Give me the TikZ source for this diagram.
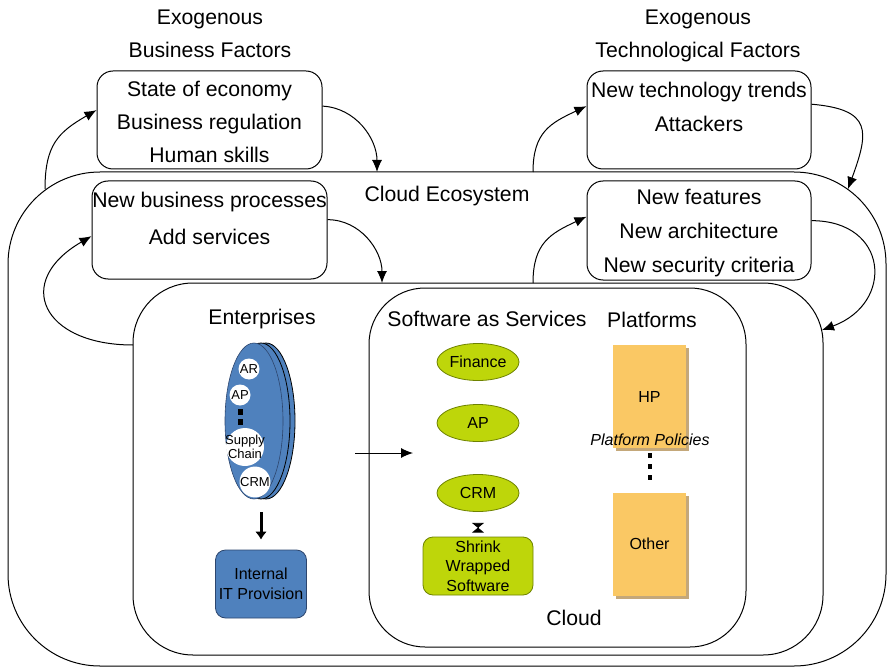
\documentclass[tikz,border=0pt]{standalone}
\usepackage{fontspec}
\setmainfont{Liberation Sans}
\usetikzlibrary{arrows.meta,shapes.geometric,shadows}

\definecolor{entblue}{RGB}{79,129,189}
\definecolor{entline}{RGB}{45,70,110}
\definecolor{saasgreen}{RGB}{190,214,10}
\definecolor{saasline}{RGB}{110,130,0}
\definecolor{platorange}{RGB}{250,200,100}
\definecolor{platshadow}{RGB}{196,168,122}

\begin{document}
\begin{tikzpicture}[
    x=0.5pt, y=-0.5pt,
    font=\fontsize{10.6}{17}\selectfont,
    zone/.style={draw, rectangle, inner sep=0pt, line width=0.5pt},
    factor/.style={draw, rectangle, rounded corners=8pt, align=center,
                   minimum width=112.5pt, minimum height=49pt, inner sep=0pt, line width=0.5pt},
    heading/.style={align=center, inner sep=0pt},
    arrow/.style={-{Latex[length=6pt,width=5pt]}, line width=0.5pt},
    bigarrow/.style={-{Latex[length=4pt,width=6pt]}, line width=1.5pt},
    layer/.style={ellipse, fill=entblue, minimum width=29pt, minimum height=78pt, inner sep=0pt},
    module/.style={circle, fill=white, inner sep=0pt, align=center,
                   font=\fontsize{6.5}{7}\selectfont},
    app/.style={ellipse, draw=saasline, fill=saasgreen, minimum width=41pt,
                minimum height=18.5pt, inner sep=0pt, font=\fontsize{8}{9.5}\selectfont},
    smallbox/.style={rectangle, rounded corners=5pt, align=center, inner sep=0pt,
                     font=\fontsize{8}{9.75}\selectfont},
    platform/.style={rectangle, fill=platorange, minimum width=36.5pt, minimum height=51.5pt,
                     inner sep=0pt, font=\fontsize{8}{9.5}\selectfont,
                     copy shadow={fill=platshadow, draw=none, shadow xshift=1.5pt, shadow yshift=-1.5pt}}
]
\useasboundingbox (0,0) rectangle (888,668);

% nested regions
\node[zone, rounded corners=46pt, minimum width=439pt, minimum height=247pt] (eco) at (447,419) {};
\node[zone, rounded corners=30pt, minimum width=345pt, minimum height=186pt] (ent) at (478,469) {};
\node[zone, rounded corners=28pt, minimum width=188.5pt, minimum height=179.5pt] (cloud) at (557.5,467.5) {};

\node[heading] (exobus)  at (210,34) {Exogenous\\[-0.5pt]Business Factors};
\node[heading] (exotech) at (698,35.5) {Exogenous\\[-0.5pt]Technological Factors};
\node[heading] (ecolbl)  at (447,196) {Cloud Ecosystem};
\node[heading] (entlbl)  at (262,319) {Enterprises};
\node[heading] (saaslbl) at (487,319) {Software as Services};
\node[heading] (platlbl) at (652,320) {Platforms};
\node[heading] (cloudlbl) at (574,618) {Cloud};

% factor boxes
\node[factor] (busfac) at (209.5,120) {\mbox{}\\[-7.4pt]State of economy\\[-0.5pt]Business regulation\\[-0.5pt]Human skills};
\node[factor, minimum width=117.5pt] (busproc) at (209.5,230) {New business processes\\[1.5pt]Add services\\[-5.3pt]\mbox{}};
\node[factor, minimum width=112pt] (techfac) at (699,120) {New technology trends\\Attackers\\[-3.8pt]\mbox{}};
\node[factor, minimum width=112pt, minimum height=49.5pt] (techproc) at (699,230.5) {\mbox{}\\[-7.3pt]New features\\New architecture\\New security criteria};

% feedback loops
\coordinate (ecobusout)  at (45,189);
\coordinate (ecobusin)   at (377,172);
\coordinate (ecotechout) at (533,172);
\coordinate (ecotechin)  at (848,189);
\coordinate (entbusout)  at (133,345);
\coordinate (entbusin)   at (382,283);
\coordinate (enttechout) at (533,283);
\coordinate (enttechin)  at (822,330);

\draw[arrow] (ecobusout) to[out=90, in=210, looseness=1.2] (busfac.175);
\draw[arrow] (busfac.7) to[out=-3, in=90] (ecobusin);
\draw[arrow] (entbusout) to[out=180, in=210, looseness=2] (busproc.183);
\draw[arrow] (busproc.5) to[out=0, in=90] (entbusin);
\draw[arrow] (ecotechout) to[out=90, in=205, looseness=1.2] (techfac.173.5);
\draw[arrow] (techfac.8) to[out=-5, in=70, looseness=1.7] (ecotechin);
\draw[arrow] (enttechout) to[out=90, in=205, looseness=1.2] (techproc.173.6);
\draw[arrow] (techproc.5) to[out=0, in=20, looseness=1.8] (enttechin);

% enterprise stack
\node[layer, draw=black] (ent3) at (266,421) {};
\node[layer, draw=black] (ent2) at (261,421) {};
\node[layer, draw=entline, line width=0.3pt] (ent1) at (254,421) {};
\node[module, minimum size=10.5pt] (ar) at (249,369) {AR};
\node[module, minimum size=10.5pt] (ap) at (240,395) {AP};
\node[module, minimum size=19pt] (sc) at (245,447) {\makebox[0pt]{Supply}\\\makebox[0pt]{Chain}};
\node[module, minimum size=15pt] (crm) at (255,482) {CRM};
\draw[line width=2.5pt, dash pattern=on 3pt off 2pt, shorten <=1.75pt, shorten >=1.5pt]
    (ap.south) -- (ap.south |- sc.north);

\node[smallbox, draw=entline, fill=entblue, minimum width=45.5pt, minimum height=34pt] (itprov) at (261,584) {Internal\\IT Provision};
\draw[bigarrow, shorten <=6.5pt, shorten >=5pt] (ent2.south) -- (itprov.north);

\coordinate (entout) at (355,453);
\coordinate (saasin) at (413,453);
\draw[arrow] (entout) -- (saasin);

% software as services
\node[app] (finance) at (478,362) {Finance};
\node[app] (apsvc)   at (478,423) {AP};
\node[app] (crmsvc)  at (478,493) {CRM};
\node[smallbox, draw=saasline, fill=saasgreen, minimum width=55pt, minimum height=29pt] (shrink) at (478,566) {Shrink\\Wrapped\\Software};
\draw[{Triangle[reversed,length=2.5pt,width=6pt]}-{Triangle[reversed,length=2.5pt,width=6pt]},
      shorten <=5.5pt, shorten >=2pt] (crmsvc.south) -- (shrink.north);

% platforms
\node[platform] (hp)    at (649.5,396.5) {HP};
\node[platform] (other) at (649.5,544) {Other};
\draw[line width=2pt, dash pattern=on 2.5pt off 3pt, shorten <=2.5pt, shorten >=3pt] (hp.south) -- (other.north);
\node[inner sep=0pt, font=\itshape\fontsize{8}{9.5}\selectfont] (policy) at (650,440) {Platform Policies};
\end{tikzpicture}
\end{document}
